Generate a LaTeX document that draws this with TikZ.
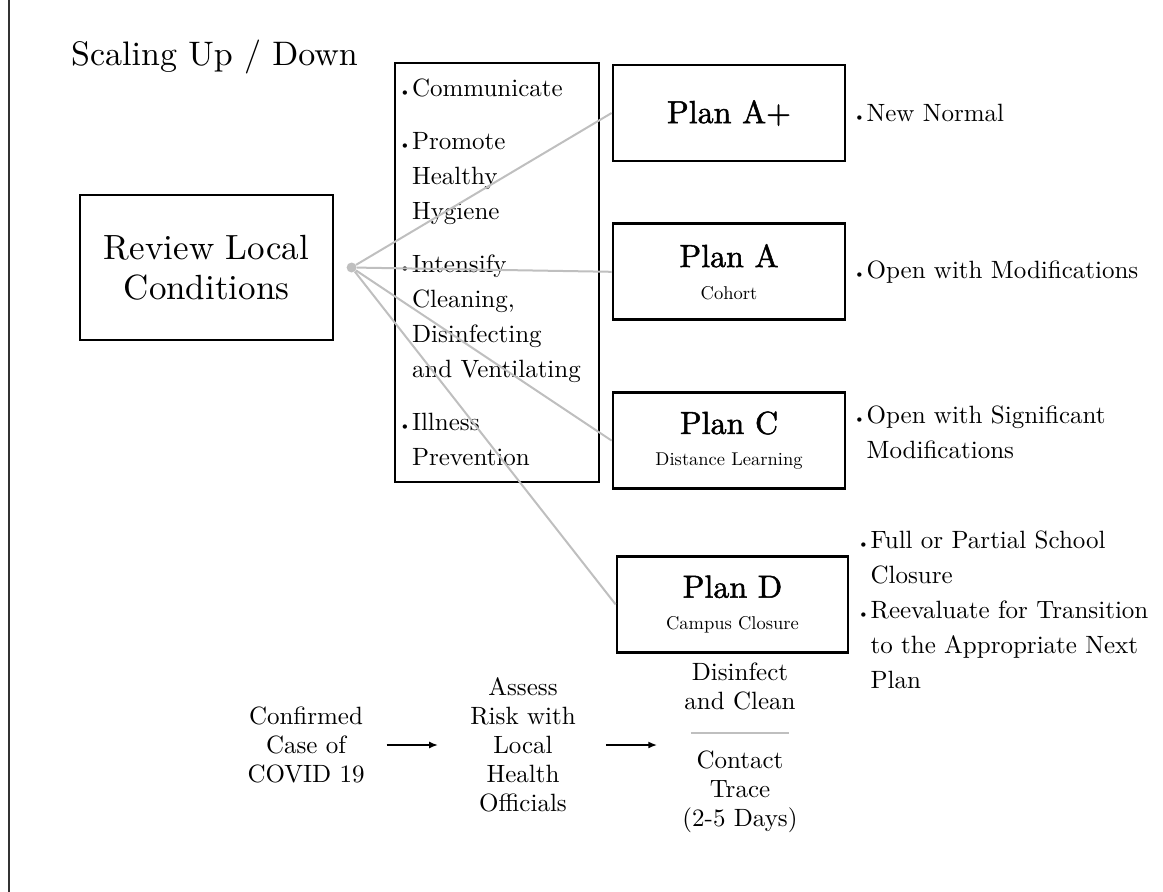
\documentclass[tikz,border=0pt]{standalone}
\usepackage{fontspec}
\setmainfont{lmroman10-regular.otf}
\newfontface\planface{lmroman10-regular.otf}[FakeBold=1.5]
\usepackage{tikz}
\usetikzlibrary{positioning,arrows.meta}

\newcommand{\bul}{\makebox[13pt][l]{\scalebox{0.6}{\textbullet}}}
\newcommand{\ind}{\hspace*{13pt}}
\newcommand{\subfont}{\fontsize{18.5}{18.5}\selectfont}

\begin{document}
\begin{tikzpicture}[x=1pt, y=-1pt,
    box/.style={draw, line width=2.8pt, inner sep=0pt},
    plan/.style={box, minimum width=232pt, minimum height=96pt, align=center,
                 font=\fontsize{32}{34}\planface},
    note/.style={align=left, inner sep=0pt, font=\fontsize{25}{35}\selectfont},
    stage/.style={align=center, inner sep=0pt, font=\fontsize{25}{29}\selectfont},
    hubdot/.style={circle, fill=black!25, inner sep=0pt, minimum size=10pt},
    link/.style={draw=black!25, line width=2pt},
    flow/.style={-{Latex[length=9pt,width=7pt]}, line width=2pt}]
        \useasboundingbox (0,0) rectangle (1163,892);
        \draw[line width=1.5pt, black!80] (9,0) -- (9,892);

        \node[anchor=base west, inner sep=0pt, font=\fontsize{34}{40}\selectfont] (title) at (71,65) {Scaling Up / Down};

        \node[box, minimum width=253pt, minimum height=145pt, align=center,
              font=\fontsize{35}{40}\selectfont] (review) at (206.5,267.5) {Review Local\\Conditions};
        \node[hubdot] (hub) [right=12pt of review] {};

        \node[box, minimum height=419pt, text width=196pt, inner xsep=4pt, align=left,
              font=\fontsize{25}{35}\selectfont] (tips) at (497,272.5)
              {\bul Communicate\\[18pt]
               \bul Promote\\ \ind Healthy\\ \ind Hygiene\\[18pt]
               \bul Intensify\\ \ind Cleaning,\\ \ind Disinfecting\\ \ind and Ventilating\\[18pt]
               \bul Illness\\ \ind Prevention};

        \node[plan] (planAp) at (729,113) {Plan A+};
        \node[plan] (planA) [below=60pt of planAp] {Plan A\\[-2pt]{\subfont\rmfamily Cohort}};
        \node[plan] (planC) [below=70pt of planA] {Plan C\\[-2pt]{\subfont\rmfamily Distance Learning}};
        \node[plan, minimum width=231pt] (planD) [below=65pt of planC, xshift=3.5pt] {Plan D\\[-2pt]{\subfont\rmfamily Campus Closure}};

        \node[note] (noteAp) [right=7pt of planAp] {\bul New Normal};
        \node[note] (noteA) [right=7pt of planA] {\bul Open with Modifications};
        \node[note] (noteC) [below right=14.5pt and 7pt of planC.north east] {\bul Open with Significant\\ \ind Modifications};
        \node[note, anchor=north west] (noteD) at ([shift={(8pt,24.5pt)}]planD.north east)
              {\bul Full or Partial School\\ \ind Closure\\ \bul Reevaluate for Transition\\ \ind to the Appropriate Next\\ \ind Plan};

        \path[link]
          (hub) edge (planAp.west)
          (hub) edge (planA.west)
          (hub) edge (planC.west)
          (hub) edge (planD.west);

        \node[stage] (confirmed) at (306,745) {Confirmed\\Case of\\COVID 19};
        \node[stage] (assess) at (523,745) {Assess\\Risk with\\Local\\Health\\Officials};
        \node[minimum width=98pt, minimum height=0pt, inner sep=0pt] (rule) at (740,733) {};
        \node[stage] (clean) [above=23pt of rule] {Disinfect\\and Clean};
        \node[stage] (contact) [below=17pt of rule] {Contact\\Trace\\(2-5 Days)};
        \draw[link] (rule.west) -- (rule.east);

        \draw[flow, shorten <=22pt, shorten >=32pt] (confirmed) -- (assess);
        \draw[flow, shorten <=30pt, shorten >=25pt] (assess.east) -- (assess.east -| contact.west);
\end{tikzpicture}
\end{document}
